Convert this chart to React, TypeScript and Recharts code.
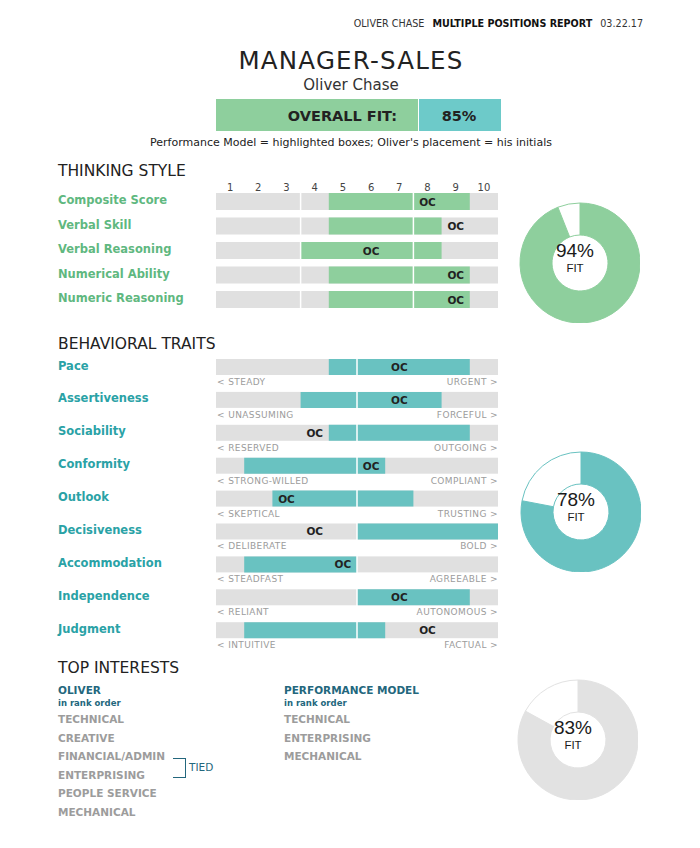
import React from 'react';
import { ComposedChart, Bar, XAxis, YAxis, ReferenceLine, LabelList, PieChart, Pie, Cell } from 'recharts';

const FONT = "'DejaVu Sans', sans-serif";
const ARIAL = "'Liberation Sans', Arial, sans-serif";

// ---------- data ----------
const scaleTicks = [1, 2, 3, 4, 5, 6, 7, 8, 9, 10];

const thinkingTraits = ['Composite Score', 'Verbal Skill', 'Verbal Reasoning', 'Numerical Ability', 'Numeric Reasoning'];
const thinkingModelFrom = [5, 5, 4, 5, 5];
const thinkingModelTo = [9, 8, 8, 9, 9];
const thinkingScores = [8, 9, 6, 9, 9];
const thinkingDividers = [3, 7];

const behaviorTraits = ['Pace', 'Assertiveness', 'Sociability', 'Conformity', 'Outlook', 'Decisiveness', 'Accommodation', 'Independence', 'Judgment'];
const behaviorLowLabels = ['< STEADY', '< UNASSUMING', '< RESERVED', '< STRONG-WILLED', '< SKEPTICAL', '< DELIBERATE', '< STEADFAST', '< RELIANT', '< INTUITIVE'];
const behaviorHighLabels = ['URGENT >', 'FORCEFUL >', 'OUTGOING >', 'COMPLIANT >', 'TRUSTING >', 'BOLD >', 'AGREEABLE >', 'AUTONOMOUS >', 'FACTUAL >'];
const behaviorModelFrom = [5, 4, 5, 2, 3, 6, 2, 6, 2];
const behaviorModelTo = [9, 8, 9, 6, 7, 10, 5, 9, 6];
const behaviorScores = [7, 7, 4, 6, 3, 4, 5, 7, 8];
const behaviorDividers = [5];

const fitValues = [94, 78, 83];
const overallFit = 85;

const oliverInterests = ['TECHNICAL', 'CREATIVE', 'FINANCIAL/ADMIN', 'ENTERPRISING', 'PEOPLE SERVICE', 'MECHANICAL'];
const modelInterests = ['TECHNICAL', 'ENTERPRISING', 'MECHANICAL'];

// ---------- styles ----------
const GREEN = '#8ecf9d';
const GREEN_TEXT = '#5fb880';
const TEAL = '#69c2c1';
const TEAL_TEXT = '#2aa2a6';
const BAR_BG = '#e0e0e0';
const NAVY = '#23677d';
const GRAY_TEXT = '#9c9c9c';
const DONUT_GRAY = '#e2e2e2';

const thinkingData = thinkingTraits.map((name, i) => ({
  name,
  model: [thinkingModelFrom[i] - 1, thinkingModelTo[i]],
  oc: [thinkingScores[i] - 1, thinkingScores[i]],
  score: thinkingScores[i],
}));

const behaviorData = behaviorTraits.map((name, i) => ({
  name,
  model: [behaviorModelFrom[i] - 1, behaviorModelTo[i]],
  oc: [behaviorScores[i] - 1, behaviorScores[i]],
  score: behaviorScores[i],
  low: behaviorLowLabels[i],
  high: behaviorHighLabels[i],
}));

type TxtProps = {
  x: number; y: number; children: React.ReactNode; size?: number; weight?: number;
  color?: string; anchor?: 'start' | 'middle' | 'end'; family?: string; ls?: number;
};
const Txt = ({ x, y, children, size = 11, weight = 400, color = '#333', anchor = 'start', family = FONT, ls = 0 }: TxtProps) => {
  const tx = anchor === 'middle' ? '-50%' : anchor === 'end' ? '-100%' : '0';
  return (
    <div
      style={{
        position: 'absolute', left: x, top: y, transform: `translate(${tx}, -50%)`,
        fontSize: size, fontWeight: weight, color, fontFamily: family, lineHeight: 1,
        whiteSpace: 'nowrap', letterSpacing: ls,
      }}
    >
      {children}
    </div>
  );
};

const renderOC = (props: any) => {
  const { x, y, width, height } = props;
  return (
    <text x={x + width / 2} y={y + height / 2} textAnchor="middle" dominantBaseline="central"
      fontFamily={FONT} fontWeight={700} fontSize={10.5} fill="#222">OC</text>
  );
};

const thinkingBg = (props: any) => {
  const { x, y, width, height } = props;
  return <rect x={x} y={y} width={width} height={height} fill={BAR_BG} />;
};

const behaviorBg = (props: any) => {
  const { x, y, width, height, index, payload } = props;
  const low = (payload && payload.low) || behaviorLowLabels[index];
  const high = (payload && payload.high) || behaviorHighLabels[index];
  return (
    <g>
      <rect x={x} y={y} width={width} height={height} fill={BAR_BG} />
      <text x={x + 1} y={y + height + 7} dominantBaseline="central" fontFamily={FONT} fontSize={9} letterSpacing={0.4} fill={GRAY_TEXT}>{low}</text>
      <text x={x + width} y={y + height + 7} textAnchor="end" dominantBaseline="central" fontFamily={FONT} fontSize={9} letterSpacing={0.4} fill={GRAY_TEXT}>{high}</text>
    </g>
  );
};

const tickPositions = scaleTicks.map((t) => t - 0.5);

const renderTick = (props: any) => {
  const { x, y, payload } = props;
  return (
    <text x={x} y={y + 2} textAnchor="middle" fontFamily={FONT} fontSize={10} fill="#444">
      {payload.value + 0.5}
    </text>
  );
};

type ScaleProps = {
  data: any[]; fill: string; plotTop: number; plotHeight: number; barSize: number;
  dividers: number[]; showTicks: boolean; bg: (p: any) => any;
};

const ScaleChart = ({ data, fill, plotTop, plotHeight, barSize, dividers, showTicks, bg }: ScaleProps) => {
  const axisH = showTicks ? 20 : 0;
  const bottomPad = 14;
  return (
    <div style={{ position: 'absolute', left: 216, top: plotTop - axisH }}>
      <ComposedChart layout="vertical" width={282} height={plotHeight + axisH + bottomPad} data={data}
        margin={{ top: 0, right: 0, bottom: bottomPad, left: 0 }}>
        <XAxis type="number" domain={[0, 10]} ticks={tickPositions} orientation="top" hide={!showTicks}
          height={axisH} axisLine={false} tickLine={false} tickSize={0} tickMargin={0} interval={0} tick={renderTick} />
        <YAxis type="category" dataKey="name" yAxisId="model" hide />
        <YAxis type="category" dataKey="name" yAxisId="oc" hide />
        <Bar dataKey="model" yAxisId="model" fill={fill} barSize={barSize} background={bg} isAnimationActive={false} />
        {dividers.map((d) => (
          <ReferenceLine key={d} x={d} yAxisId="model" stroke="#ffffff" strokeWidth={1.5} />
        ))}
        <Bar dataKey="oc" yAxisId="oc" fill="transparent" barSize={barSize} isAnimationActive={false}>
          <LabelList dataKey="score" content={renderOC} />
        </Bar>
      </ComposedChart>
    </div>
  );
};

const Donut = ({ value, color, cx, cy }: { value: number; color: string; cx: number; cy: number }) => {
  const data = [{ name: 'fit', value }, { name: 'gap', value: 100 - value }];
  return (
    <>
      <div style={{ position: 'absolute', left: cx - 65, top: cy - 65 }}>
        <PieChart width={130} height={130}>
          <Pie data={data} dataKey="value" cx={65} cy={65} innerRadius={28} outerRadius={60}
            startAngle={90} endAngle={-270} isAnimationActive={false}>
            <Cell fill={color} stroke={color} />
            <Cell fill="#ffffff" stroke={color} />
          </Pie>
        </PieChart>
      </div>
      <Txt x={cx} y={cy - 8} size={19} anchor="middle" family={ARIAL} color="#1a1a1a">{value}%</Txt>
      <Txt x={cx} y={cy + 11} size={11.5} anchor="middle" family={ARIAL} color="#1a1a1a">FIT</Txt>
    </>
  );
};

export default function App() {
  return (
    <div style={{ position: 'absolute', left: 0, top: 0, width: 700, height: 848, background: '#fff', overflow: 'hidden' }}>
      {/* header */}
      <Txt x={643} y={24} size={9.6} anchor="end" color="#333">
        OLIVER CHASE<span style={{ fontWeight: 700, marginLeft: 8, marginRight: 8, color: '#111' }}>MULTIPLE POSITIONS REPORT</span>03.22.17
      </Txt>
      <Txt x={351} y={61} size={24.5} anchor="middle" color="#222" ls={1.2}>MANAGER-SALES</Txt>
      <Txt x={351} y={85} size={15} anchor="middle" color="#333">Oliver Chase</Txt>

      {/* overall fit box */}
      <div style={{ position: 'absolute', left: 216, top: 99, width: 202, height: 32, background: GREEN }} />
      <div style={{ position: 'absolute', left: 419, top: 99, width: 82, height: 32, background: '#6dcac9' }} />
      <Txt x={397} y={115.5} size={14.5} weight={700} anchor="end" color="#222">OVERALL FIT:</Txt>
      <Txt x={459} y={115.5} size={14.5} weight={700} anchor="middle" color="#222">{overallFit}%</Txt>
      <Txt x={351} y={142} size={11} anchor="middle" color="#222">
        Performance Model = highlighted boxes; Oliver's placement = his initials
      </Txt>

      {/* thinking style */}
      <Txt x={58} y={171.5} size={15.5} color="#222">THINKING STYLE</Txt>
      {thinkingTraits.map((t, i) => (
        <Txt key={t} x={58} y={201 + i * 24.5} size={11.5} weight={700} color={GREEN_TEXT}>{t}</Txt>
      ))}
      <ScaleChart data={thinkingData} fill={GREEN} plotTop={189} plotHeight={122.5} barSize={17}
        dividers={thinkingDividers} showTicks={true} bg={thinkingBg} />
      <Donut value={fitValues[0]} color={GREEN} cx={575} cy={258} />

      {/* behavioral traits */}
      <Txt x={58} y={345} size={15.5} color="#222">BEHAVIORAL TRAITS</Txt>
      {behaviorTraits.map((t, i) => (
        <Txt key={t} x={58} y={366.5 + i * 32.9} size={11.5} weight={700} color={TEAL_TEXT}>{t}</Txt>
      ))}
      <ScaleChart data={behaviorData} fill={TEAL} plotTop={350.5} plotHeight={296.1} barSize={16}
        dividers={behaviorDividers} showTicks={false} bg={behaviorBg} />
      <Donut value={fitValues[1]} color={TEAL} cx={576} cy={507} />

      {/* top interests */}
      <Txt x={58} y={669} size={15.5} color="#222">TOP INTERESTS</Txt>
      <Txt x={58} y={690} size={10.5} weight={700} color={NAVY}>OLIVER</Txt>
      <Txt x={58} y={702.5} size={8.5} weight={700} color={NAVY}>in rank order</Txt>
      {oliverInterests.map((t, i) => (
        <Txt key={t} x={58} y={719 + i * 18.6} size={10.5} weight={700} color={GRAY_TEXT}>{t}</Txt>
      ))}
      <div style={{ position: 'absolute', left: 173, top: 758, width: 12, height: 18, borderTop: `1px solid ${NAVY}`, borderRight: `1px solid ${NAVY}`, borderBottom: `1px solid ${NAVY}` }} />
      <Txt x={189} y={766.5} size={10.5} color={NAVY}>TIED</Txt>

      <Txt x={284} y={690} size={10.5} weight={700} color={NAVY}>PERFORMANCE MODEL</Txt>
      <Txt x={284} y={702.5} size={8.5} weight={700} color={NAVY}>in rank order</Txt>
      {modelInterests.map((t, i) => (
        <Txt key={t} x={284} y={719 + i * 18.6} size={10.5} weight={700} color={GRAY_TEXT}>{t}</Txt>
      ))}
      <Donut value={fitValues[2]} color={DONUT_GRAY} cx={573} cy={735} />
    </div>
  );
}
